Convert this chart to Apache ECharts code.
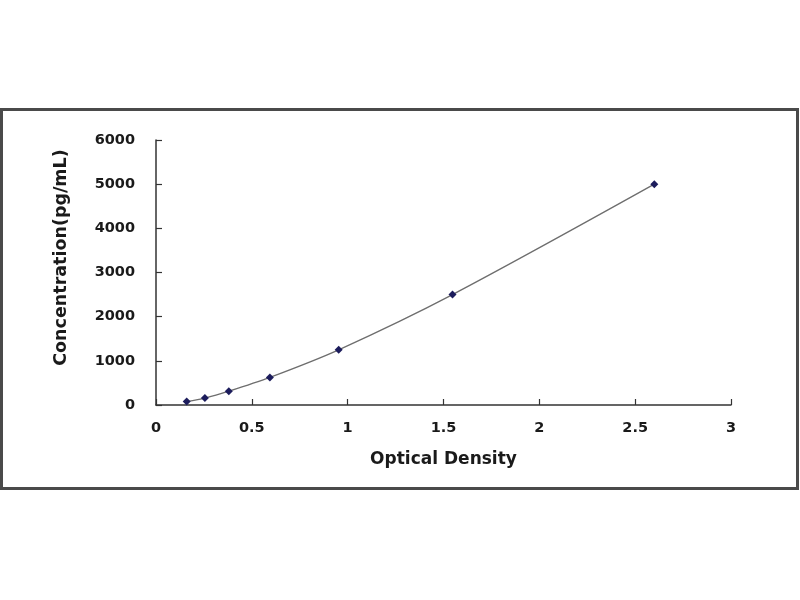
<!DOCTYPE html>
<html>
<head>
<meta charset="utf-8">
<script src="https://cdn.jsdelivr.net/npm/echarts@6/dist/echarts.min.js"></script>
<style>
html,body{margin:0;padding:0;background:#fff;}
#chart{width:800px;height:600px;}
</style>
</head>
<body>
<div id="chart"></div>
<script>
// Data
const opticalDensity = [0.16, 0.255, 0.38, 0.594, 0.953, 1.547, 2.60];
const concentration = [78, 156, 312, 625, 1250, 2500, 5000];
const xTitle = 'Optical Density';
const yTitle = 'Concentration(pg/mL)';

const points = opticalDensity.map((x, i) => [x, concentration[i]]);

const chart = echarts.init(document.getElementById('chart'));
const labelFont = { fontFamily: 'DejaVu Sans', fontWeight: 'bold', fontSize: 14.5, color: '#1a1a1a' };
chart.setOption({
  backgroundColor: '#ffffff',
  animation: false,
  graphic: [{
    type: 'rect',
    shape: { x: 1.5, y: 109.5, width: 796, height: 379 },
    style: { fill: 'none', stroke: '#4a4a4a', lineWidth: 3 },
    silent: true
  }],
  grid: { left: 156, right: 69, top: 140, bottom: 195 },
  xAxis: {
    type: 'value', min: 0, max: 3, interval: 0.5,
    name: xTitle, nameLocation: 'middle', nameGap: 46,
    nameTextStyle: { fontFamily: 'DejaVu Sans', fontWeight: 'bold', fontSize: 17, color: '#1a1a1a' },
    axisLine: { show: true, lineStyle: { color: '#333', width: 1.5 } },
    axisTick: { show: true, inside: true, length: 6, lineStyle: { color: '#333', width: 1.2 } },
    axisLabel: Object.assign({ margin: 16, formatter: v => String(v) }, labelFont),
    splitLine: { show: false }
  },
  yAxis: {
    type: 'value', min: 0, max: 6000, interval: 1000,
    name: yTitle, nameLocation: 'middle', nameGap: 86, nameRotate: 90,
    nameTextStyle: { fontFamily: 'DejaVu Sans', fontWeight: 'bold', fontSize: 17.5, color: '#1a1a1a', padding: [0, 0, 0, 30] },
    axisLine: { show: true, lineStyle: { color: '#333', width: 1.5 } },
    axisTick: { show: true, inside: true, length: 6, lineStyle: { color: '#333', width: 1.2 } },
    axisLabel: Object.assign({ margin: 21, formatter: v => String(v) }, labelFont),
    splitLine: { show: false }
  },
  series: [{
    type: 'line',
    data: points,
    smooth: 0.3,
    symbol: 'diamond',
    symbolSize: 8,
    itemStyle: { color: '#1c1c5c' },
    lineStyle: { color: '#6e6e6e', width: 1.3 }
  }]
});
</script>
</body>
</html>
